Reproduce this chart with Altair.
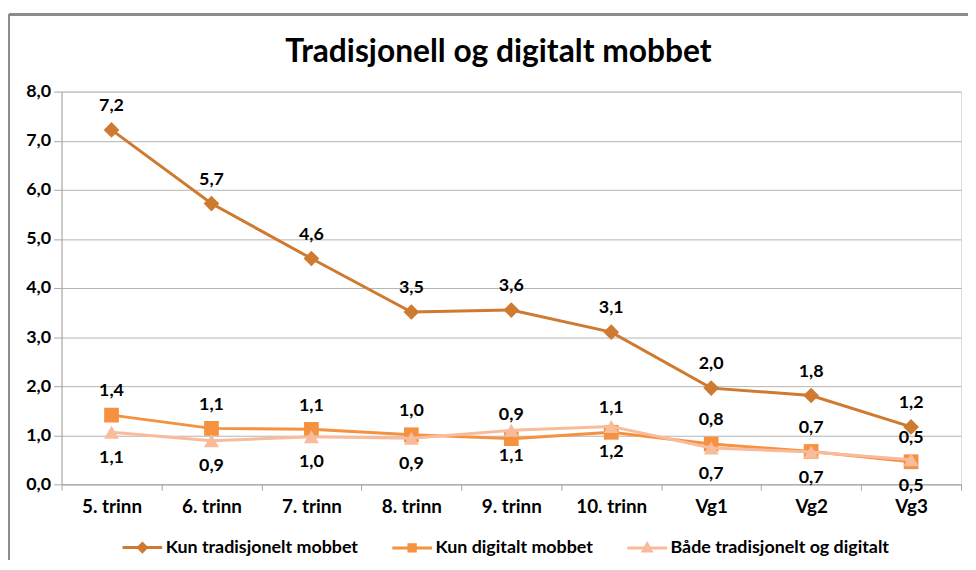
import altair as alt
import pandas as pd

categories = ["5. trinn", "6. trinn", "7. trinn", "8. trinn", "9. trinn",
              "10. trinn", "Vg1", "Vg2", "Vg3"]
series_names = ["Kun tradisjonelt mobbet", "Kun digitalt mobbet",
                "Både tradisjonelt og digitalt"]
trad_values = [7.22, 5.72, 4.60, 3.51, 3.55, 3.10, 1.96, 1.81, 1.17]
trad_labels = ["7,2", "5,7", "4,6", "3,5", "3,6", "3,1", "2,0", "1,8", "1,2"]
dig_values = [1.41, 1.14, 1.12, 1.01, 0.93, 1.06, 0.82, 0.67, 0.46]
dig_labels = ["1,4", "1,1", "1,1", "1,0", "0,9", "1,1", "0,8", "0,7", "0,5"]
both_values = [1.06, 0.89, 0.97, 0.94, 1.10, 1.18, 0.74, 0.66, 0.50]
both_labels = ["1,1", "0,9", "1,0", "0,9", "1,1", "1,2", "0,7", "0,7", "0,5"]
y_ticks = [0, 1, 2, 3, 4, 5, 6, 7, 8]

colors = ["#CE7A30", "#F5913F", "#F8BC9C"]
shapes = ["diamond", "square", "triangle-up"]
sizes = [250, 220, 230]
legend_paths = [
    "M-1,0L1,0M0,-0.2L0.2,0L0,0.2L-0.2,0Z",
    "M-1,0L1,0M-0.16,-0.16L0.16,-0.16L0.16,0.16L-0.16,0.16Z",
    "M-1,0L1,0M0,-0.2L0.2,0.16L-0.2,0.16Z",
]

rows = []
for name, vals, labs in zip(series_names,
                            [trad_values, dig_values, both_values],
                            [trad_labels, dig_labels, both_labels]):
    for c, v, l in zip(categories, vals, labs):
        rows.append({"cat": c, "series": name, "value": v, "label": l})
df = pd.DataFrame(rows)

FONT = "Lato"
FS = 18

x_enc = alt.X("cat:N", sort=categories, bandPosition=0.5,
              scale=alt.Scale(type="band", paddingInner=0, paddingOuter=0),
              axis=alt.Axis(title=None, tickBand="extent", labelAngle=0,
                            grid=False, domainColor="#A6A6A6", tickColor="#A6A6A6",
                            tickSize=6, labelPadding=7, labelFontSize=19,
                            labelFontWeight="bold", labelColor="#000000",
                            labelFont=FONT))
y_enc = alt.Y("value:Q",
              scale=alt.Scale(domain=[0, 8], nice=False),
              axis=alt.Axis(title=None, values=y_ticks,
                            labelExpr="replace(format(datum.value, '.1f'), '.', ',')",
                            grid=True, gridColor="#B3B3B3", domainColor="#A6A6A6",
                            tickColor="#A6A6A6", tickSize=8, labelPadding=3,
                            labelFontSize=FS, labelFontWeight="bold",
                            labelColor="#000000", labelFont=FONT))

base = alt.Chart(df).encode(x=x_enc, y=y_enc)

layers = []
for name, shp, sz, col in zip(series_names, shapes, sizes, colors):
    sub = base.transform_filter(alt.datum.series == name)
    layers.append(sub.mark_line(strokeWidth=3, color=col))
    layers.append(sub.mark_point(shape=shp, size=sz, filled=True, opacity=1, color=col))

text_common = dict(fontSize=FS, fontWeight="bold", font=FONT, color="#000000",
                   baseline="middle", align="center")
layers.append(base.transform_filter(alt.datum.series != series_names[2])
              .mark_text(dy=-24, **text_common).encode(text="label:N"))
layers.append(base.transform_filter(alt.datum.series == series_names[2])
              .mark_text(dy=26, **text_common).encode(text="label:N"))

# legend-only layer: no rows drawn, the explicit scale domain still lists every series
legend_scale = alt.Scale(domain=series_names, range=colors)
legend_layer = base.transform_filter(alt.datum.value < 0).mark_point(
    filled=True, opacity=1).encode(
    fill=alt.Fill("series:N", scale=legend_scale,
                  legend=alt.Legend(title=None, orient="none", direction="horizontal",
                                    legendX=60, legendY=438, symbolSize=1600,
                                    symbolStrokeWidth=3, symbolOpacity=1,
                                    labelFontSize=18, labelFontWeight="bold",
                                    labelFont=FONT, labelColor="#000000",
                                    columnPadding=28, labelOffset=2, padding=0,
                                    labelLimit=400)),
    stroke=alt.Stroke("series:N", scale=legend_scale, legend=alt.Legend(title=None)),
    shape=alt.Shape("series:N", scale=alt.Scale(domain=series_names, range=legend_paths),
                    legend=alt.Legend(title=None)),
)
layers.append(legend_layer)

frame_left = alt.Chart(df).mark_rule(color="#8C8C8C", strokeWidth=2).encode(
    x=alt.value(-53), y=alt.value(-78), y2=alt.value(472))
frame_top = alt.Chart(df).mark_rule(color="#8C8C8C", strokeWidth=2).encode(
    x=alt.value(-53), x2=alt.value(914), y=alt.value(-78))

chart = alt.layer(frame_left, frame_top, *layers).properties(
    width=907, height=396,
    title=alt.TitleParams("Tradisjonell og digitalt mobbet", font=FONT, fontSize=32,
                          fontWeight="bold", color="#000000", anchor="middle",
                          frame="group", dx=-13, offset=-56),
    autosize=alt.AutoSizeParams(type="none"),
    padding={"left": 54, "top": 82, "right": 7, "bottom": 76},
).configure_view(stroke=None).configure(background="white")

chart.save("out.html", embed_options={"renderer": "svg", "actions": False})
